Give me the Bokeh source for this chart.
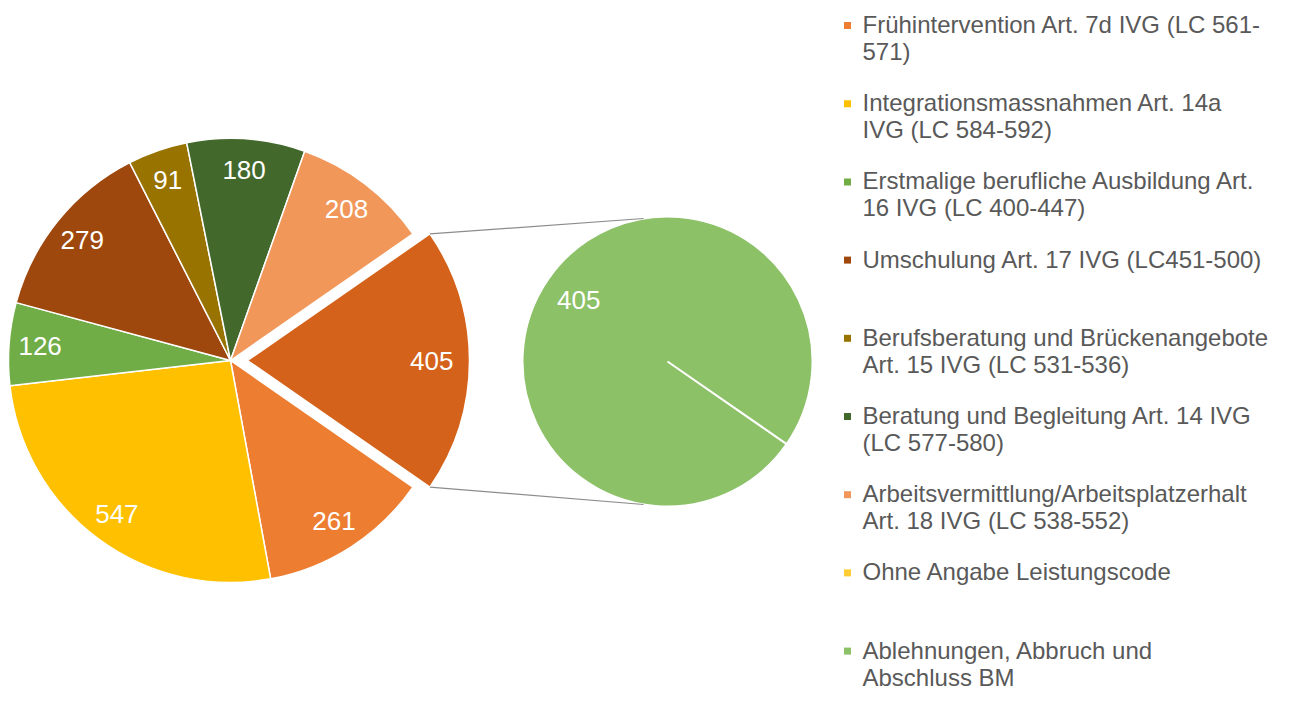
import math
from bokeh.plotting import figure
from bokeh.embed import file_html
from bokeh.resources import INLINE
from bokeh.models import ColumnDataSource, Range1d
from bokeh.core.properties import value

# ---- data ----
categories = [
    "Frühintervention Art. 7d IVG (LC 561-571)",
    "Integrationsmassnahmen Art. 14a IVG (LC 584-592)",
    "Erstmalige berufliche Ausbildung Art. 16 IVG (LC 400-447)",
    "Umschulung Art. 17 IVG (LC451-500)",
    "Berufsberatung und Brückenangebote Art. 15 IVG (LC 531-536)",
    "Beratung und Begleitung Art. 14 IVG (LC 577-580)",
    "Arbeitsvermittlung/Arbeitsplatzerhalt Art. 18 IVG (LC 538-552)",
    "Ohne Angabe Leistungscode",
    "Ablehnungen, Abbruch und Abschluss BM",
]
legend_lines = [
    ["Frühintervention Art. 7d IVG (LC 561-", "571)"],
    ["Integrationsmassnahmen Art. 14a", "IVG (LC 584-592)"],
    ["Erstmalige berufliche Ausbildung Art.", "16 IVG (LC 400-447)"],
    ["Umschulung Art. 17 IVG (LC451-500)"],
    ["Berufsberatung und Brückenangebote", "Art. 15 IVG (LC 531-536)"],
    ["Beratung und Begleitung Art. 14 IVG", "(LC 577-580)"],
    ["Arbeitsvermittlung/Arbeitsplatzerhalt", "Art. 18 IVG (LC 538-552)"],
    ["Ohne Angabe Leistungscode"],
    ["Ablehnungen, Abbruch und", "Abschluss BM"],
]
values = [261, 547, 126, 279, 91, 180, 208, 0, 405]
colors = ["#ED7D31", "#FFC000", "#70AD47", "#9E480E", "#997300",
          "#43682B", "#F1975A", "#FFCD33", "#8CC168"]
other_color = "#D5621A"
n_main = 7  # first 7 in main pie, remaining in secondary pie

W, H = 1282, 690
p = figure(width=W, height=H, output_backend="svg", toolbar_location=None,
           x_range=Range1d(0, W), y_range=Range1d(0, H), min_border=0)
p.axis.visible = False
p.grid.visible = False
p.outline_line_color = None
p.background_fill_color = "white"

def fx(ix):
    return ix

def fy(iy):
    return H - iy

font = value("Liberation Sans")

main_vals = values[:n_main]
sec_vals = values[n_main:]
other_val = sum(sec_vals)
total = sum(main_vals) + other_val
a_other = 2 * math.pi * other_val / total

cx, cy, R = fx(230), fy(360), 222
explode = 17

starts, ends, lx, ly, labels = [], [], [], [], []
cur = -a_other / 2
for v in main_vals:
    ang = 2 * math.pi * v / total
    s, e = cur - ang, cur
    starts.append(s); ends.append(e)
    mid = (s + e) / 2
    lx.append(cx + 0.86 * R * math.cos(mid))
    ly.append(cy + 0.86 * R * math.sin(mid))
    labels.append(str(v))
    cur = s

src = ColumnDataSource(dict(x=[cx] * n_main, y=[cy] * n_main, s=starts, e=ends,
                            c=colors[:n_main]))
p.wedge(x="x", y="y", radius=R, start_angle="s", end_angle="e", fill_color="c",
        line_color="white", line_width=1.5, source=src)

ox = cx + explode
p.wedge(x=[ox], y=[cy], radius=R, start_angle=[-a_other / 2], end_angle=[a_other / 2],
        fill_color=other_color, line_color="white", line_width=1.5)
lx.append(ox + 0.83 * R); ly.append(cy); labels.append(str(other_val))

# secondary pie
scx, scy, sR = fx(667), fy(361), 145
cur = -a_other / 2
eps = 1e-3
s_starts, s_ends, s_cols = [], [], []
for v, c in zip(sec_vals, colors[n_main:]):
    ang = 2 * math.pi * v / other_val
    if ang <= 0:
        continue
    s_starts.append(cur - ang + eps); s_ends.append(cur); s_cols.append(c)
    mid = cur - ang / 2
    lx.append(scx + 0.745 * sR * math.cos(mid))
    ly.append(scy + 0.745 * sR * math.sin(mid))
    labels.append(str(v))
    cur = cur - ang
p.wedge(x=[scx] * len(s_starts), y=[scy] * len(s_starts), radius=sR,
        start_angle=s_starts, end_angle=s_ends, fill_color=s_cols,
        line_color="white", line_width=2)

# data labels (drawn on top of all wedges)
p.text(x=lx, y=ly, text=labels, text_color="white", text_font=font,
       text_font_size="26px", text_align="center", text_baseline="middle")

# connector lines
top0 = (ox + R * math.cos(a_other / 2), cy + R * math.sin(a_other / 2))
bot0 = (ox + R * math.cos(-a_other / 2), cy + R * math.sin(-a_other / 2))
ta = math.radians(99.5)
ba = math.radians(-99.5)
top1 = (scx + sR * math.cos(ta), scy + sR * math.sin(ta))
bot1 = (scx + sR * math.cos(ba), scy + sR * math.sin(ba))
p.segment(x0=[top0[0], bot0[0]], y0=[top0[1], bot0[1]],
          x1=[top1[0], bot1[0]], y1=[top1[1], bot1[1]],
          line_color="#8c8c8c", line_width=1.2)

# legend
leg_x_marker = fx(847)
leg_x_text = fx(862)
tx, ty, tt = [], [], []
mx, my = [], []
for i, lines in enumerate(legend_lines):
    y0 = 24 + 78.2 * i
    mx.append(leg_x_marker); my.append(fy(y0 + 1))
    for j, line in enumerate(lines):
        tx.append(leg_x_text); ty.append(fy(y0 + 27 * j)); tt.append(line)
p.scatter(x=mx, y=my, marker="square", size=7, fill_color=colors, line_color=None)
p.text(x=tx, y=ty, text=tt, text_color="#595959", text_font=font,
       text_font_size="24px", text_align="left", text_baseline="middle")

open("out.html", "w").write(file_html(p, INLINE))
